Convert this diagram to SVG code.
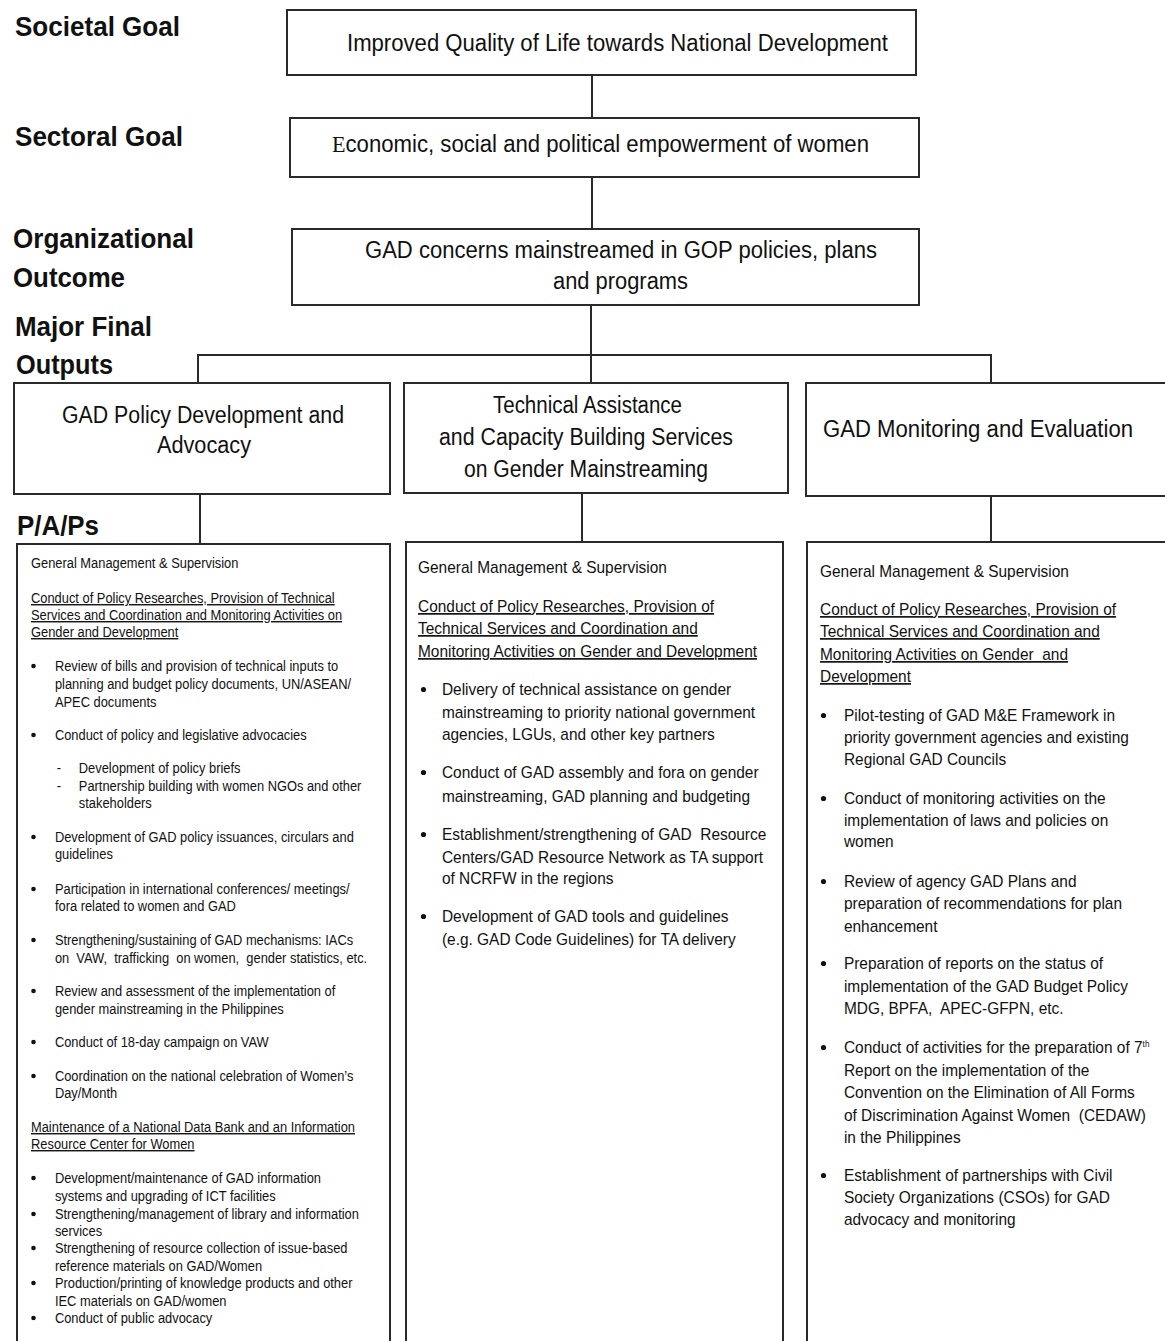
<svg xmlns="http://www.w3.org/2000/svg" width="1165" height="1341" viewBox="0 0 1165 1341">
<style>
text{font-family:"Liberation Sans",Arial,sans-serif;fill:#111}
.lbl{font-size:28px;font-weight:bold}
.hd{font-size:23.5px}
.box{fill:#fff;stroke:#2a2a2a;stroke-width:2}
.con{stroke:#2a2a2a;stroke-width:2;fill:none}
.s{font-size:14px}
.m{font-size:16.8px}
.u{text-decoration:underline}
.b{fill:#111}
</style>
<rect width="1165" height="1341" fill="#fff"/>
<g id="labels">
<text class="lbl" x="15" y="36" textLength="165" lengthAdjust="spacingAndGlyphs">Societal Goal</text>
<text class="lbl" x="15" y="146" textLength="168" lengthAdjust="spacingAndGlyphs">Sectoral Goal</text>
<text class="lbl" x="13" y="248" textLength="181" lengthAdjust="spacingAndGlyphs">Organizational</text>
<text class="lbl" x="13" y="287" textLength="112" lengthAdjust="spacingAndGlyphs">Outcome</text>
<text class="lbl" x="15" y="336" textLength="137" lengthAdjust="spacingAndGlyphs">Major Final</text>
<text class="lbl" x="16" y="374" textLength="97" lengthAdjust="spacingAndGlyphs">Outputs</text>
<text class="lbl" x="17" y="535" textLength="82" lengthAdjust="spacingAndGlyphs">P/A/Ps</text>
</g>
<g id="connectors">
<line class="con" x1="592" y1="75" x2="592" y2="118"/>
<line class="con" x1="592" y1="177" x2="592" y2="229"/>
<line class="con" x1="591" y1="305" x2="591" y2="383"/>
<polyline class="con" points="198,383 198,355 991,355 991,383"/>
<line class="con" x1="200" y1="494" x2="200" y2="544"/>
<line class="con" x1="582" y1="493" x2="582" y2="542"/>
<line class="con" x1="991" y1="496" x2="991" y2="542"/>
</g>
<g id="societal">
<rect class="box" x="287" y="10" width="629" height="65"/>
<text class="hd" x="347" y="51" textLength="541" lengthAdjust="spacingAndGlyphs">Improved Quality of Life towards National Development</text>
</g>
<g id="sectoral">
<rect class="box" x="290" y="118" width="629" height="59"/>
<text class="hd" x="332" y="152" textLength="537" lengthAdjust="spacingAndGlyphs"><tspan style="font-family:'Liberation Serif',serif">E</tspan>conomic, social and political empowerment of women</text>
</g>
<g id="outcome">
<rect class="box" x="292" y="229" width="627" height="76"/>
<text class="hd" x="365" y="258" textLength="512" lengthAdjust="spacingAndGlyphs">GAD concerns mainstreamed in GOP policies, plans</text>
<text class="hd" x="553" y="289" textLength="135" lengthAdjust="spacingAndGlyphs">and programs</text>
</g>
<g id="mfo-policy">
<rect class="box" x="14" y="383" width="376" height="111"/>
<text class="hd" x="62" y="423" textLength="282" lengthAdjust="spacingAndGlyphs">GAD Policy Development and</text>
<text class="hd" x="157" y="453" textLength="94" lengthAdjust="spacingAndGlyphs">Advocacy</text>
</g>
<g id="mfo-ta">
<rect class="box" x="404" y="383" width="384" height="110"/>
<text class="hd" x="493" y="413" textLength="189" lengthAdjust="spacingAndGlyphs">Technical Assistance</text>
<text class="hd" x="439" y="445" textLength="294" lengthAdjust="spacingAndGlyphs">and Capacity Building Services</text>
<text class="hd" x="464" y="477" textLength="244" lengthAdjust="spacingAndGlyphs">on Gender Mainstreaming</text>
</g>
<g id="mfo-me">
<rect class="box" x="806" y="383" width="370" height="113"/>
<text class="hd" x="823" y="437" textLength="310" lengthAdjust="spacingAndGlyphs">GAD Monitoring and Evaluation</text>
</g>
<g id="pap-policy">
<rect class="box" x="17" y="544" width="373" height="820"/>
<g class="b">
<circle cx="33.5" cy="666" r="2.3"/><circle cx="33.5" cy="735" r="2.3"/><circle cx="33.5" cy="837" r="2.3"/>
<circle cx="33.5" cy="889" r="2.3"/><circle cx="33.5" cy="940" r="2.3"/><circle cx="33.5" cy="991" r="2.3"/>
<circle cx="33.5" cy="1042" r="2.3"/><circle cx="33.5" cy="1076" r="2.3"/><circle cx="33.5" cy="1178" r="2.3"/>
<circle cx="33.5" cy="1214" r="2.3"/><circle cx="33.5" cy="1248" r="2.3"/><circle cx="33.5" cy="1283" r="2.3"/>
<circle cx="33.5" cy="1318" r="2.3"/>
</g>
<g transform="translate(31,0) scale(0.92,1)" class="s">
<text x="0" y="568">General Management &amp; Supervision</text>
<text class="u" x="0" y="603">Conduct of Policy Researches, Provision of Technical</text>
<text class="u" x="0" y="620">Services and Coordination and Monitoring Activities on</text>
<text class="u" x="0" y="637">Gender and Development</text>
<text x="26" y="671">Review of bills and provision of technical inputs to</text>
<text x="26" y="689">planning and budget policy documents, UN/ASEAN/</text>
<text x="26" y="707">APEC documents</text>
<text x="26" y="740">Conduct of policy and legislative advocacies</text>
<text x="28" y="773">-</text><text x="52" y="773">Development of policy briefs</text>
<text x="28" y="791">-</text><text x="52" y="791">Partnership building with women NGOs and other</text>
<text x="52" y="808">stakeholders</text>
<text x="26" y="842">Development of GAD policy issuances, circulars and</text>
<text x="26" y="859">guidelines</text>
<text x="26" y="894">Participation in international conferences/ meetings/</text>
<text x="26" y="911">fora related to women and GAD</text>
<text x="26" y="945">Strengthening/sustaining of GAD mechanisms: IACs</text>
<text x="26" y="963" xml:space="preserve">on  VAW,  trafficking  on women,  gender statistics, etc.</text>
<text x="26" y="996">Review and assessment of the implementation of</text>
<text x="26" y="1014">gender mainstreaming in the Philippines</text>
<text x="26" y="1047">Conduct of 18-day campaign on VAW</text>
<text x="26" y="1081">Coordination on the national celebration of Women’s</text>
<text x="26" y="1098">Day/Month</text>
<text class="u" x="0" y="1132">Maintenance of a National Data Bank and an Information</text>
<text class="u" x="0" y="1149">Resource Center for Women</text>
<text x="26" y="1183">Development/maintenance of GAD information</text>
<text x="26" y="1201">systems and upgrading of ICT facilities</text>
<text x="26" y="1219">Strengthening/management of library and information</text>
<text x="26" y="1236">services</text>
<text x="26" y="1253">Strengthening of resource collection of issue-based</text>
<text x="26" y="1271">reference materials on GAD/Women</text>
<text x="26" y="1288">Production/printing of knowledge products and other</text>
<text x="26" y="1306">IEC materials on GAD/women</text>
<text x="26" y="1323">Conduct of public advocacy</text>
</g>
</g>
<g id="pap-ta">
<rect class="box" x="406" y="542" width="377" height="820"/>
<g class="b">
<circle cx="423.5" cy="689.5" r="2.6"/><circle cx="423.5" cy="772.5" r="2.6"/><circle cx="423.5" cy="834.5" r="2.6"/><circle cx="423.5" cy="916.5" r="2.6"/>
</g>
<g transform="translate(418,0) scale(0.92,1)" class="m">
<text x="0" y="573">General Management &amp; Supervision</text>
<text class="u" x="0" y="612">Conduct of Policy Researches, Provision of</text>
<text class="u" x="0" y="634">Technical Services and Coordination and</text>
<text class="u" x="0" y="657">Monitoring Activities on Gender and Development</text>
<text x="26" y="695">Delivery of technical assistance on gender</text>
<text x="26" y="718">mainstreaming to priority national government</text>
<text x="26" y="740">agencies, LGUs, and other key partners</text>
<text x="26" y="778">Conduct of GAD assembly and fora on gender</text>
<text x="26" y="802">mainstreaming, GAD planning and budgeting</text>
<text x="26" y="840" xml:space="preserve">Establishment/strengthening of GAD  Resource</text>
<text x="26" y="863">Centers/GAD Resource Network as TA support</text>
<text x="26" y="884">of NCRFW in the regions</text>
<text x="26" y="922">Development of GAD tools and guidelines</text>
<text x="26" y="945">(e.g. GAD Code Guidelines) for TA delivery</text>
</g>
</g>
<g id="pap-me">
<rect class="box" x="807" y="542" width="370" height="820"/>
<g class="b">
<circle cx="823.5" cy="715.5" r="2.6"/><circle cx="823.5" cy="798.5" r="2.6"/><circle cx="823.5" cy="881.5" r="2.6"/>
<circle cx="823.5" cy="963.5" r="2.6"/><circle cx="823.5" cy="1047.5" r="2.6"/><circle cx="823.5" cy="1175.5" r="2.6"/>
</g>
<g transform="translate(820,0) scale(0.92,1)" class="m">
<text x="0" y="577">General Management &amp; Supervision</text>
<text class="u" x="0" y="615">Conduct of Policy Researches, Provision of</text>
<text class="u" x="0" y="637">Technical Services and Coordination and</text>
<text class="u" x="0" y="660" xml:space="preserve">Monitoring Activities on Gender  and</text>
<text class="u" x="0" y="682">Development</text>
<text x="26" y="721">Pilot-testing of GAD M&amp;E Framework in</text>
<text x="26" y="743">priority government agencies and existing</text>
<text x="26" y="765">Regional GAD Councils</text>
<text x="26" y="804">Conduct of monitoring activities on the</text>
<text x="26" y="826">implementation of laws and policies on</text>
<text x="26" y="847">women</text>
<text x="26" y="887">Review of agency GAD Plans and</text>
<text x="26" y="909">preparation of recommendations for plan</text>
<text x="26" y="932">enhancement</text>
<text x="26" y="969">Preparation of reports on the status of</text>
<text x="26" y="992">implementation of the GAD Budget Policy</text>
<text x="26" y="1014" xml:space="preserve">MDG, BPFA,  APEC-GFPN, etc.</text>
<text x="26" y="1053">Conduct of activities for the preparation of 7<tspan dy="-6" font-size="9">th</tspan></text>
<text x="26" y="1076">Report on the implementation of the</text>
<text x="26" y="1098">Convention on the Elimination of All Forms</text>
<text x="26" y="1121" xml:space="preserve">of Discrimination Against Women  (CEDAW)</text>
<text x="26" y="1143">in the Philippines</text>
<text x="26" y="1181">Establishment of partnerships with Civil</text>
<text x="26" y="1203">Society Organizations (CSOs) for GAD</text>
<text x="26" y="1225">advocacy and monitoring</text>
</g>
</g>
</svg>
